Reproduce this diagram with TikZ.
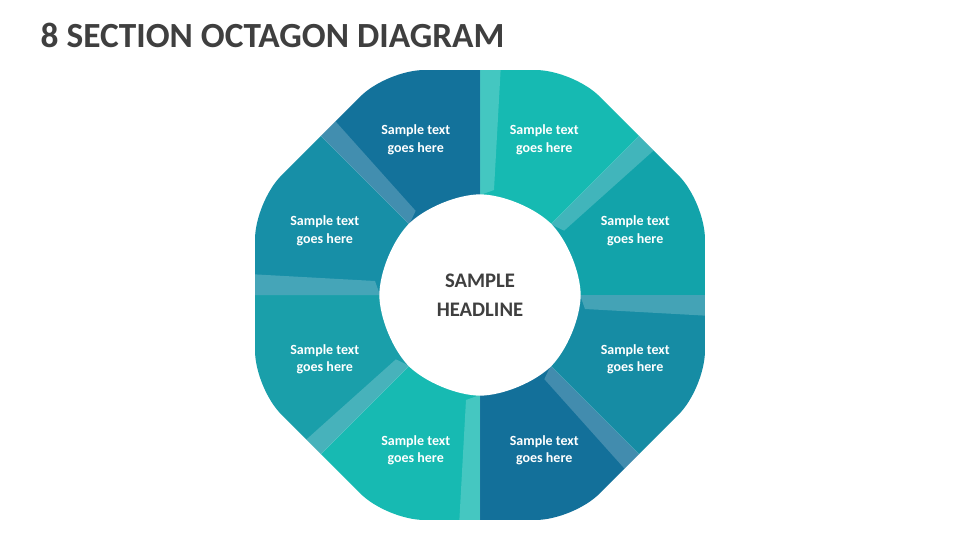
\documentclass[tikz,border=0pt]{standalone}
\usepackage{fontspec}
\setmainfont{Carlito}
\usetikzlibrary{positioning}
\definecolor{sec0}{HTML}{12A3AA}
\definecolor{sec1}{HTML}{16BAB2}
\definecolor{sec2}{HTML}{13729B}
\definecolor{sec3}{HTML}{178FA7}
\definecolor{sec4}{HTML}{1A9FAA}
\definecolor{sec5}{HTML}{17BAB2}
\definecolor{sec6}{HTML}{13709A}
\definecolor{sec7}{HTML}{168CA4}
\definecolor{titlegray}{HTML}{3F3F3F}
\begin{document}
\begin{tikzpicture}[x=0.75pt,y=0.75pt]
  \tikzset{label/.style={white,font=\fontsize{10.5}{13}\selectfont\bfseries,align=center}}
  \useasboundingbox[fill=white] (-480,-245) rectangle (480,295);
  \node[anchor=west,titlegray,font=\fontsize{26.5}{30}\selectfont\bfseries] (title) at (-444,260) {8 SECTION OCTAGON DIAGRAM};
  \begin{scope}
    \clip[rounded corners=28] (22.5:243.5) \foreach \a in {67.5,112.5,...,337.5} { -- (\a:243.5) } -- cycle;
    \foreach \k/\c in {0/sec0,1/sec1,2/sec2,3/sec3,4/sec4,5/sec5,6/sec6,7/sec7}
      \fill[\c] (0,0) -- (\k*45:400) -- (\k*45+45:400) -- cycle;
    % folded ribbon strips
    \foreach \k in {0,...,7}
      \fill[white,opacity=0.2,rotate=\k*45] (100,0) -- (250,0) -- (250,-22) -- (105,-14) -- cycle;
  \end{scope}
  \fill[white,rounded corners=32] (22.5:109) \foreach \a in {67.5,112.5,...,337.5} { -- (\a:109) } -- cycle;
  \node[titlegray,font=\fontsize{15.5}{22}\selectfont\bfseries,align=center] (head) at (0,0) {SAMPLE\\HEADLINE};
  \foreach \k in {0,...,7}
    \node[label] (txt\k) at (\k*45+22.5:168) {Sample text\\goes here};
\end{tikzpicture}
\end{document}
